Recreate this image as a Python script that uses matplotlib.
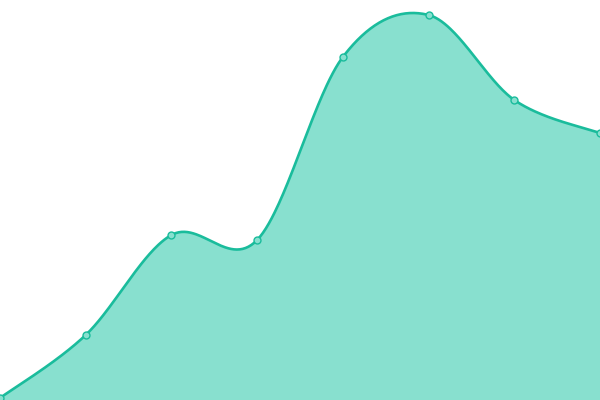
import numpy as np
import matplotlib
matplotlib.use("Agg")
import matplotlib.pyplot as plt

# data (height above the bottom, in px of a 400px frame)
x_vals = [0, 1, 2, 3, 4, 5, 6, 7]
y_vals = [2, 65, 165, 160, 343, 385, 300, 267]

line_col = "#1abc9c"
fill_col = "#88e0cf"


def catmull(x, y, n=60):
    x = np.asarray(x, float)
    y = np.asarray(y, float)
    px = np.concatenate([[x[0]], x, [x[-1]]])
    py = np.concatenate([[y[0]], y, [y[-1]]])
    xs, ys = [], []
    t = np.linspace(0, 1, n)
    for i in range(1, len(px) - 2):
        x0, x1 = px[i], px[i + 1]
        y0, y1 = py[i], py[i + 1]
        cx1 = x0 + (px[i + 1] - px[i - 1]) / 6
        cy1 = y0 + (py[i + 1] - py[i - 1]) / 6
        cx2 = x1 - (px[i + 2] - px[i]) / 6
        cy2 = y1 - (py[i + 2] - py[i]) / 6
        bx = (1-t)**3*x0 + 3*(1-t)**2*t*cx1 + 3*(1-t)*t**2*cx2 + t**3*x1
        by = (1-t)**3*y0 + 3*(1-t)**2*t*cy1 + 3*(1-t)*t**2*cy2 + t**3*y1
        xs.append(bx)
        ys.append(by)
    return np.concatenate(xs), np.concatenate(ys)


sx, sy = catmull(x_vals, y_vals)

fig = plt.figure(figsize=(6, 4), dpi=100)
ax = fig.add_axes([0, 0, 1, 1])
ax.fill_between(sx, 0, sy, color=fill_col, lw=0)
ax.plot(sx, sy, color=line_col, lw=1.9, solid_capstyle="round")
ax.plot(x_vals, y_vals, "o", ms=5, mfc=fill_col, mec=line_col, mew=1, clip_on=False)
ax.set_xlim(0, 7)
ax.set_ylim(0, 400)
ax.axis("off")

fig.savefig("out.png", dpi=100)
